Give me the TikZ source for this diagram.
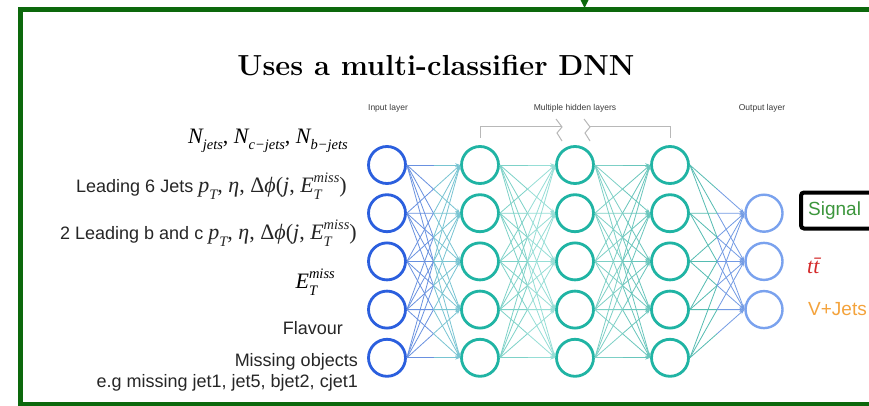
\documentclass[tikz,border=0pt]{standalone}
\usepackage{fontspec}
\newfontfamily\lsans{Liberation Sans}
\newfontfamily\tms{Liberation Serif}
\usetikzlibrary{arrows.meta,calc}
\newcommand\mi[1]{{\tms\itshape #1}}
\newcommand\lo[1]{\raisebox{-0.3em}{\fontsize{14.5}{15}\selectfont\tms\itshape #1}}
\newcommand\hi[1]{\raisebox{0.48em}{\fontsize{14.5}{15}\selectfont\tms\itshape #1}}
\newcommand\Emiss{\mi{E}\rlap{\lo{T}}\hi{miss}}
\newcommand\kinvars{{\fontsize{22}{24}\selectfont\tms\mi{p}\lo{T}, \mi{η}, Δ\mi{ϕ}(\mi{j}, \Emiss)}}
\definecolor{frameGreen}{RGB}{12,104,12}
\definecolor{inBlue}{RGB}{43,95,222}
\definecolor{hidTeal}{RGB}{32,180,164}
\definecolor{outBlue}{RGB}{122,162,238}
\definecolor{eA1}{RGB}{105,145,224}
\definecolor{eB1}{RGB}{120,196,210}
\definecolor{eA2}{RGB}{125,210,200}
\definecolor{eB2}{RGB}{150,222,214}
\definecolor{eA3}{RGB}{125,208,198}
\definecolor{eB3}{RGB}{105,198,188}
\definecolor{eA4}{RGB}{85,188,178}
\definecolor{eB4}{RGB}{115,155,228}
\definecolor{sigGreen}{RGB}{60,150,60}
\definecolor{ttRed}{RGB}{212,42,42}
\definecolor{vjOrange}{RGB}{244,163,60}
\definecolor{labGray}{RGB}{60,60,60}
\definecolor{brkGray}{RGB}{184,184,184}
\tikzset{
  neuron/.style={circle, minimum size=37pt, inner sep=0pt, line width=2.8pt, fill=white},
  inneuron/.style={neuron, draw=inBlue},
  hidneuron/.style={neuron, draw=hidTeal},
  outneuron/.style={neuron, draw=outBlue, line width=2.4pt},
  edgeline/.style={line width=0.8pt},
  edgetip/.style={line width=0.8pt, -{Stealth[length=5pt,width=3.6pt]}},
  lefttext/.style={anchor=east, inner sep=0pt, font=\lsans\fontsize{18}{21}\selectfont, text=black!85},
  mathtext/.style={anchor=east, inner sep=0pt, font=\tms\fontsize{22}{24}\selectfont},
  layerlab/.style={inner sep=0pt, font=\lsans\fontsize{8.5}{10}\selectfont, text=labGray},
  bracket/.style={draw=brkGray, line width=1pt},
  classtext/.style={anchor=west, inner sep=0pt, font=\lsans\fontsize{19}{22}\selectfont}
}
\begin{document}
\begin{tikzpicture}[x=1pt,y=-1pt]
\useasboundingbox (0,0) rectangle (869,406);
\clip (0,0) rectangle (869,406);
\fill[white] (0,0) rectangle (869,406);
% frame
\draw[frameGreen, line width=5pt] (20,10) rectangle (920,404);
\fill[frameGreen] (580.5,0) -- (588.5,0) -- (584.5,8) -- cycle;
% title
\node[inner sep=0pt, font=\fontsize{29}{32}\selectfont\bfseries] (title) at (436,66) {Uses a multi-classifier DNN};
% layer labels
\node[layerlab] (linput) at (388,108) {Input layer};
\node[layerlab] (lhidden) at (575,108) {Multiple hidden layers};
\node[layerlab] (loutput) at (762,108) {Output layer};
% bracket
\draw[bracket] (480,138) -- (480,127) -- (562,127);
\draw[bracket] (556,119) -- (562,127) -- (557,133) -- (562,141);
\draw[bracket] (584,119) -- (590,127) -- (585,133) -- (590,141);
\draw[bracket] (590,127) -- (670,127) -- (670,138);
% neurons
\foreach \k in {1,...,5}{
  \pgfmathsetmacro{\yy}{165+48.2*(\k-1)}
  \node[inneuron] (i\k) at (387,\yy) {};
  \node[hidneuron] (a\k) at (480,\yy) {};
  \node[hidneuron] (b\k) at (575,\yy) {};
  \node[hidneuron] (c\k) at (670,\yy) {};
}
\foreach \k in {1,2,3}{
  \pgfmathsetmacro{\yy}{165+48.2*\k}
  \node[outneuron] (o\k) at (764,\yy) {};
}
% edges
\foreach \s in {1,...,5}{
  \foreach \t in {1,...,5}{
    \draw[edgeline, eA1] (i\s.east) -- ($(i\s.east)!0.5!(a\t.west)$) coordinate (m);
    \draw[edgetip, eB1] (m) -- (a\t.west);
    \draw[edgeline, eA2] (a\s.east) -- ($(a\s.east)!0.5!(b\t.west)$) coordinate (m);
    \draw[edgetip, eB2] (m) -- (b\t.west);
    \draw[edgeline, eA3] (b\s.east) -- ($(b\s.east)!0.5!(c\t.west)$) coordinate (m);
    \draw[edgetip, eB3] (m) -- (c\t.west);
  }
  \foreach \t in {1,2,3}{
    \draw[edgeline, eA4] (c\s.east) -- ($(c\s.east)!0.5!(o\t.west)$) coordinate (m);
    \draw[edgetip, eB4] (m) -- (o\t.west);
  }
}
% left labels
\node[mathtext] (t1) at (348,141) {\mi{N}\lo{jets}, \mi{N}\lo{c−jets}, \mi{N}\lo{b−jets}};
\node[lefttext] (t2) at (347,186) {Leading 6 Jets \kinvars};
\node[lefttext] (t3) at (357,233) {2 Leading b and c \kinvars};
\node[mathtext] (t4) at (335,282) {\Emiss};
\node[lefttext] (t5) at (343,328) {Flavour};
\node[lefttext, align=right] (t6) at (358,372) {Missing objects\\e.g missing jet1, jet5, bjet2, cjet1};
% classes
\node[draw=black, line width=4pt, rounded corners=3pt, anchor=west, minimum height=36pt, minimum width=110pt, inner sep=0pt] (sigbox) at (799,210.5) {};
\node[classtext, text=sigGreen] (signal) at (808,211) {Signal};
\node[anchor=west, inner sep=0pt, text=ttRed, font=\tms\fontsize{22}{24}\selectfont] (tt) at (807,266) {\mi{t\={t}}};
\node[classtext, text=vjOrange] (vj) at (808,309) {V+Jets};
\end{tikzpicture}
\end{document}
